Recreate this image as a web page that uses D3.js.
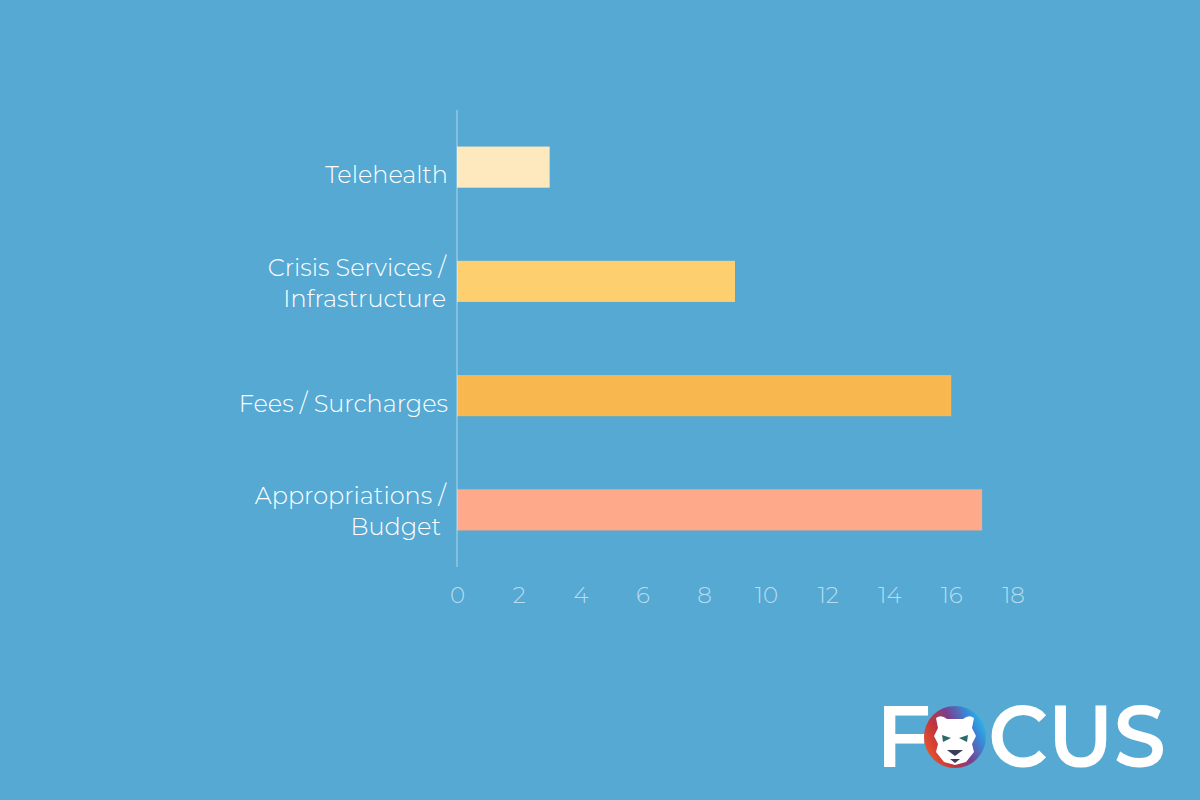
<!DOCTYPE html>
<html>
<head>
<meta charset="utf-8">
<script src="https://cdn.jsdelivr.net/npm/d3@7"></script>
<style>
html,body{margin:0;padding:0;background:#55a9d3;}
svg{display:block;}
</style>
</head>
<body>
<svg id="chart" width="1200" height="800"></svg>
<script>
const categories = ["Telehealth", "Crisis Services / Infrastructure", "Fees / Surcharges", "Appropriations / Budget"];
const labelLines = [["Telehealth"], ["Crisis Services /", "Infrastructure"], ["Fees / Surcharges"], ["Appropriations /", "Budget"]];
const values = [3, 9, 16, 17];
const barColors = ["#fee8bd", "#fdcf6e", "#f8b84f", "#fea989"];
const tickValues = [0, 2, 4, 6, 8, 10, 12, 14, 16, 18];

const svg = d3.select("#chart");
svg.append("rect").attr("width", 1200).attr("height", 800).attr("fill", "#55a9d3");

const x = d3.scaleLinear().domain([0, 18]).range([457, 1013]);
const y = d3.scaleBand().domain(categories).range([110, 567]).paddingInner(0.64).paddingOuter(0.32);

const font = "Montserrat, Lato, 'Open Sans', sans-serif";

// bars
svg.selectAll("rect.bar").data(categories).enter().append("rect")
  .attr("class", "bar")
  .attr("x", x(0))
  .attr("y", d => y(d))
  .attr("width", (d, i) => x(values[i]) - x(0))
  .attr("height", y.bandwidth())
  .attr("fill", (d, i) => barColors[i]);

// vertical axis line
svg.append("line")
  .attr("x1", x(0)).attr("x2", x(0))
  .attr("y1", 110).attr("y2", 567)
  .attr("stroke", "rgba(255,255,255,0.45)").attr("stroke-width", 1.2);

// x axis tick labels
const xAxis = d3.axisBottom(x).tickValues(tickValues).tickSize(0).tickPadding(0);
const gx = svg.append("g").attr("transform", "translate(0,567)").call(xAxis);
gx.select(".domain").remove();
gx.selectAll("text")
  .attr("dy", 0).attr("y", 36)
  .attr("fill", "#b8dcef")
  .style("font-family", font).style("font-weight", 300).style("font-size", "23px");

// category labels
categories.forEach((c, i) => {
  const lines = labelLines[i];
  const cy = y(c) + y.bandwidth() / 2;
  const lh = 31;
  const t = svg.append("text")
    .attr("text-anchor", "end")
    .attr("fill", "#ffffff")
    .style("font-family", font).style("font-weight", 300).style("font-size", "24px");
  lines.forEach((ln, j) => {
    const off = (j - (lines.length - 1) / 2) * lh;
    const shift = lines.length > 1 ? 10 : 16;
    t.append("tspan")
      .attr("x", lines.length > 1 ? (j === 1 && i === 3 ? 441 : 446) : 448)
      .attr("y", cy + off + shift)
      .text(ln);
  });
});

// FOCUS logo
const logo = svg.append("g");
const defs = svg.append("defs");
const grad = defs.append("linearGradient").attr("id", "lionGrad")
  .attr("x1", "0%").attr("y1", "75%").attr("x2", "100%").attr("y2", "25%");
grad.append("stop").attr("offset", "0%").attr("stop-color", "#f0562a");
grad.append("stop").attr("offset", "30%").attr("stop-color", "#c0343c");
grad.append("stop").attr("offset", "55%").attr("stop-color", "#7a3f8f");
grad.append("stop").attr("offset", "80%").attr("stop-color", "#3a86d6");
grad.append("stop").attr("offset", "100%").attr("stop-color", "#27c0ea");

logo.append("text").attr("x", 876).attr("y", 767)
  .attr("fill", "#ffffff")
  .style("font-family", "Montserrat, 'Open Sans', Lato, sans-serif")
  .style("font-weight", 600).style("font-size", "86px")
  .text("F");
logo.append("circle").attr("cx", 955).attr("cy", 737).attr("r", 31).attr("fill", "url(#lionGrad)");
// simplified lion face
logo.append("path")
  .attr("d", "M936,718 Q941,714 947,719 L963,719 Q969,714 974,718 L972,728 L976,736 L972,744 L974,752 L966,762 L955,765 L944,762 L936,752 L938,744 L934,736 L938,728 Z")
  .attr("fill", "#ffffff");
logo.append("path").attr("d", "M942,735 L951,738 L943,742 Z").attr("fill", "#2a6a6a");
logo.append("path").attr("d", "M968,735 L959,738 L967,742 Z").attr("fill", "#2a6a6a");
logo.append("path").attr("d", "M947,750 L963,750 L955,756 Z").attr("fill", "#3a3a5a");
logo.append("path").attr("d", "M950,759 L960,759 L955,763 Z").attr("fill", "#3a3a5a");

logo.append("text").attr("x", 988).attr("y", 767)
  .attr("fill", "#ffffff")
  .style("font-family", "Montserrat, 'Open Sans', Lato, sans-serif")
  .style("font-weight", 600).style("font-size", "86px")
  .attr("textLength", 178).attr("lengthAdjust", "spacingAndGlyphs")
  .text("CUS");
</script>
</body>
</html>
